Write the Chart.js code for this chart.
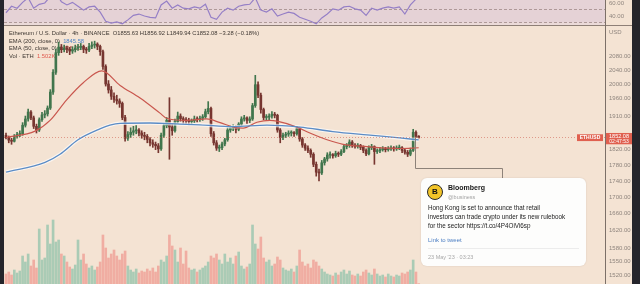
<!DOCTYPE html>
<html>
<head>
<meta charset="utf-8">
<script src="https://cdn.jsdelivr.net/npm/chart.js@4"></script>
<style>
  html, body { margin: 0; padding: 0; width: 640px; height: 284px; overflow: hidden; background: #25252b; }
  #wrap { position: absolute; left: 4px; top: 0; width: 628px; height: 284px; background: #f4e3d3; overflow: hidden;
          font-family: "Liberation Sans", Arial, sans-serif; }
  #rsiBg { position: absolute; left: 0; top: 0; width: 601px; height: 25px; background: #ebdad8; }
  #hsep { position: absolute; left: 0; top: 25px; width: 628px; height: 1px; background: #8e7f76; }
  #vsep { position: absolute; left: 601px; top: 0; width: 1px; height: 284px; background: #7c7068; z-index: 2; }
  canvas { position: absolute; left: 0; }
  #rsiCanvas { top: 0; }
  #mainCanvas { top: 26px; }
  #connector { position: absolute; left: 0; top: 0; width: 628px; height: 284px; pointer-events: none; z-index: 3; }
  #card { position: absolute; left: 417px; top: 178px; width: 165px; height: 88px; background: #fdfdfc;
          border-radius: 6px; box-shadow: 0 0 2px rgba(0,0,0,0.12); color: #1f1f1f; z-index: 4; }
  #logo { position: absolute; left: 6px; top: 6px; width: 14px; height: 14px; border-radius: 50%; background: #f2c428;
          border: 1px solid #2a2a2a; font: bold 8px/14px "Liberation Sans", Arial, sans-serif; text-align: center; color: #111; }
  #name { position: absolute; left: 27px; top: 6px; font: bold 7px "Liberation Sans", Arial, sans-serif; color: #161616; }
  #handle { position: absolute; left: 27px; top: 16px; font: 5.5px "Liberation Sans", Arial, sans-serif; color: #a3a3a3; }
  #body { position: absolute; left: 7px; top: 25px; font: 6.3px/9px "Liberation Sans", Arial, sans-serif; white-space: nowrap; color: #222; }
  #lnk { position: absolute; left: 7px; top: 59px; font: 6px "Liberation Sans", Arial, sans-serif; color: #4f80c4; }
  #rule { position: absolute; left: 7px; right: 7px; top: 70px; height: 1px; background: #ececec; }
  #date { position: absolute; left: 7px; top: 76px; font: 5.5px "Liberation Sans", Arial, sans-serif; color: #a8a8a8; }
</style>
</head>
<body>
<div id="wrap">
  <div id="rsiBg"></div>
  <canvas id="rsiCanvas" width="628" height="25"></canvas>
  <div id="hsep"></div>
  <canvas id="mainCanvas" width="628" height="258"></canvas>
  <div id="vsep"></div>
  <svg id="connector" width="628" height="284">
    <polyline points="411.5,138 411.5,168.5 498.5,168.5 498.5,178" fill="none" stroke="#8d8279" stroke-width="1"/>
  </svg>
  <div id="card">
    <div id="logo">B</div>
    <div id="name">Bloomberg</div>
    <div id="handle">@business</div>
    <div id="body">Hong Kong is set to announce that retail<br>investors can trade crypto under its new rulebook<br>for the sector https://t.co/4P4OiVi6sp</div>
    <div id="lnk">Link to tweet</div>
    <div id="rule"></div>
    <div id="date">23 May '23 · 03:23</div>
  </div>
</div>
<script>
// ---------- data ----------
const SYMBOL_TITLE = 'Ethereum / U.S. Dollar · 4h · BINANCE';
const COUNTDOWN = '02:47:53';

// 4h candles: [open, high, low, close]
const CANDLES = [
  [1858,1864,1848,1852],[1852,1856,1838,1845],[1845,1850,1834,1842],[1842,1860,1840,1855],[1855,1866,1850,1860],
  [1860,1870,1854,1862],[1862,1892,1858,1885],[1885,1910,1880,1902],[1902,1929,1896,1921],[1921,1925,1900,1905],
  [1905,1910,1876,1882],[1882,1888,1864,1872],[1872,1905,1868,1900],[1900,1920,1895,1913],[1913,1925,1905,1916],
  [1916,1938,1910,1932],[1932,1984,1928,1977],[1977,2042,1970,2034],[2034,2103,2028,2092],[2092,2124,2084,2109],
  [2109,2117,2092,2101],[2101,2115,2094,2106],[2106,2112,2092,2103],[2103,2108,2086,2097],[2097,2110,2090,2101],
  [2101,2115,2094,2106],[2106,2117,2099,2108],[2108,2120,2101,2111],[2111,2115,2092,2102],[2102,2108,2090,2100],
  [2100,2120,2095,2111],[2111,2125,2104,2115],[2115,2127,2106,2118],[2118,2122,2101,2111],[2111,2115,2084,2095],
  [2095,2100,2042,2051],[2051,2056,1994,2000],[2000,2010,1974,1983],[1983,1993,1956,1965],[1965,1975,1948,1956],
  [1956,1968,1943,1952],[1952,1958,1934,1945],[1945,1949,1900,1906],[1906,1912,1842,1850],[1850,1868,1844,1860],
  [1860,1878,1852,1866],[1866,1882,1858,1870],[1870,1884,1862,1872],[1872,1876,1856,1864],[1864,1870,1850,1858],
  [1858,1866,1846,1855],[1855,1860,1838,1847],[1847,1852,1830,1838],[1838,1846,1826,1834],[1834,1840,1820,1830],
  [1830,1836,1812,1822],[1822,1864,1818,1858],[1858,1890,1852,1884],[1884,1906,1878,1898],[1898,1961,1795,1880],
  [1880,1890,1858,1870],[1870,1902,1866,1895],[1895,1921,1890,1910],[1910,1916,1896,1903],[1903,1908,1890,1899],
  [1899,1906,1890,1898],[1898,1904,1886,1895],[1895,1902,1888,1897],[1897,1910,1892,1902],[1902,1908,1894,1900],
  [1900,1910,1895,1904],[1904,1914,1898,1908],[1908,1929,1904,1922],[1922,1950,1916,1931],[1931,1935,1855,1862],
  [1862,1868,1832,1838],[1838,1844,1818,1824],[1824,1832,1815,1825],[1825,1840,1820,1835],[1835,1850,1830,1846],
  [1846,1878,1842,1872],[1872,1884,1866,1878],[1878,1886,1870,1879],[1879,1884,1864,1874],[1874,1892,1870,1888],
  [1888,1908,1884,1902],[1902,1912,1896,1905],[1905,1908,1890,1898],[1898,1908,1892,1902],[1902,1945,1898,1939],
  [1939,2025,1934,1998],[1998,2006,1961,1968],[1968,1974,1918,1928],[1928,1932,1900,1906],[1906,1914,1898,1907],
  [1907,1916,1900,1910],[1910,1922,1904,1915],[1915,1920,1905,1912],[1912,1915,1866,1872],[1872,1876,1838,1852],
  [1852,1864,1846,1858],[1858,1866,1852,1861],[1861,1870,1855,1864],[1864,1870,1856,1865],[1865,1868,1855,1862],
  [1862,1882,1858,1876],[1876,1880,1842,1848],[1848,1852,1826,1832],[1832,1836,1818,1824],[1824,1830,1812,1818],
  [1818,1822,1800,1808],[1808,1812,1776,1782],[1782,1788,1752,1762],[1762,1770,1740,1760],[1760,1792,1756,1786],
  [1786,1800,1780,1796],[1796,1812,1790,1806],[1806,1814,1798,1807],[1807,1810,1798,1804],[1804,1816,1800,1810],
  [1810,1814,1802,1808],[1808,1820,1804,1815],[1815,1834,1812,1828],[1828,1836,1822,1831],[1831,1846,1826,1840],
  [1840,1844,1826,1830],[1830,1836,1824,1829],[1829,1836,1824,1831],[1831,1834,1820,1826],[1826,1830,1812,1818],
  [1818,1822,1804,1809],[1809,1830,1806,1825],[1825,1834,1820,1828],[1828,1830,1782,1815],[1815,1822,1810,1817],
  [1817,1826,1812,1820],[1820,1828,1816,1822],[1822,1826,1814,1820],[1820,1828,1816,1822],[1822,1830,1818,1823],
  [1823,1828,1816,1822],[1822,1830,1818,1824],[1824,1832,1820,1825],[1825,1828,1812,1818],[1818,1822,1808,1813],
  [1813,1818,1802,1808],[1808,1824,1804,1818],[1818,1874,1815,1866],[1866,1870,1852,1855.36],[1855.63,1856.92,1849.94,1852.08]
];

// volume per candle, thousands of ETH
const VOLUME_K = [
  40,48,36,56,44,52,112,88,120,72,
  96,64,220,96,104,236,160,256,168,176,
  120,112,88,68,60,76,176,96,120,80,
  64,72,56,68,88,196,144,104,120,136,
  112,96,120,132,72,56,48,60,44,52,
  48,60,52,64,48,72,96,88,112,196,
  152,136,88,144,80,132,64,56,60,48,
  56,64,72,88,112,104,120,96,80,120,
  88,104,80,112,128,72,60,68,80,236,
  160,140,188,104,88,96,72,80,108,96,
  64,56,52,60,48,72,136,88,72,80,
  64,96,88,72,60,48,40,36,32,44,
  36,48,56,40,52,36,32,40,32,48,
  56,44,36,60,40,32,36,28,40,32,
  28,36,32,44,40,48,56,96,48,1.502
];

// moving averages: [candle index, value]
const EMA200 = [[0,1762],[14.1,1787],[19.5,1808],[26,1846],[33.9,1875],[37.5,1885],[41.2,1890],[52,1891],
  [62.8,1888],[70,1886],[82,1881],[94.2,1885],[106.1,1880],[118,1868],[130.3,1859],[142.2,1851],[149,1845.58]];
const EMA50 = [[0,1852],[10.5,1869],[15.9,1898],[21.9,1955],[27.8,2003],[34.6,2038],[41.2,1996],[48.4,1960],
  [55.6,1918],[58,1904],[65.2,1898],[72.4,1902],[77.3,1892],[82,1880],[85.6,1877],[90.6,1893],[95.3,1898],
  [97.8,1896],[105,1880],[109.7,1864],[115.9,1846],[121.7,1834],[130.3,1828],[142.2,1823],[149,1825]];

// RSI sampled every second candle
const RSI_EVERY = 2;
const RSI_VALUES = [45,55,52,61,68,52,58,60,70,75, 62,57,61,55,49,54,55,46,32,29,
  31,28,34,41,43,40,38,37,57,63, 52,57,52,51,54,52,58,38,35,46,
  52,49,55,57,58,68,49,46,51,40, 43,46,44,38,35,32,28,37,43,51,
  49,54,55,51,49,41,52,49,52,54, 52,54,43,57,66];

const PRICE_TICKS = [2080, 2040, 2000, 1960, 1910, 1820, 1780, 1740, 1700, 1660, 1620, 1580, 1550, 1520];
const RSI_TICKS = [60, 40];
const RSI_LEVELS = [50, 30];

// ---------- view ranges ----------
const X_MIN = -0.72, X_MAX = 216.25;
const PRICE_MIN = 1500.5, PRICE_MAX = 2173.8;
const RSI_MIN = 26.15, RSI_MAX = 64.6;
const VOL_MAX = 1032;
const AXIS_W = 27;

const FONT = '"Liberation Sans", Arial, sans-serif';
const UP = '#41764d', DOWN = '#773630';
const isUp = CANDLES.map(r => r[3] >= r[0]);

function rightAxis(min, max, ticks, type) {
  return {
    type, position: 'right', min, max, bounds: 'data',
    grid: { display: false, drawTicks: false }, border: { display: false },
    afterBuildTicks: s => { s.ticks = ticks.map(v => ({ value: v })); },
    afterFit: s => { s.width = AXIS_W; s.paddingTop = 0; s.paddingBottom = 0; },
    ticks: { padding: 4, autoSkip: false, maxRotation: 0, color: '#8f857e',
             font: { size: 6, family: FONT }, callback: v => Number(v).toFixed(2) }
  };
}
const xAxis = () => ({ type: 'linear', min: X_MIN, max: X_MAX, offset: false, display: false });

// ---------- RSI pane ----------
const rsiGuides = {
  id: 'rsiGuides',
  beforeDatasetsDraw(chart) {
    const { ctx, chartArea: a, scales } = chart;
    ctx.save();
    const yTop = scales.y.getPixelForValue(70), yBot = scales.y.getPixelForValue(30);
    ctx.fillStyle = 'rgba(150,110,200,0.07)';
    ctx.fillRect(a.left, Math.max(a.top, yTop), a.right - a.left, yBot - Math.max(a.top, yTop));
    ctx.strokeStyle = 'rgba(130,105,100,0.55)';
    ctx.lineWidth = 1; ctx.setLineDash([3, 2]);
    RSI_LEVELS.forEach(l => {
      const y = Math.round(scales.y.getPixelForValue(l)) + 0.5;
      ctx.beginPath(); ctx.moveTo(a.left, y); ctx.lineTo(a.right, y); ctx.stroke();
    });
    ctx.restore();
  }
};

new Chart(document.getElementById('rsiCanvas'), {
  type: 'line',
  data: { datasets: [{
    data: RSI_VALUES.map((v, k) => ({ x: k * RSI_EVERY, y: v })),
    borderColor: '#957fc6', borderWidth: 1.2, pointRadius: 0, tension: 0
  }]},
  options: {
    responsive: false, animation: false, layout: { padding: 0 },
    plugins: { legend: { display: false }, tooltip: { enabled: false } },
    scales: { x: xAxis(), y: rightAxis(RSI_MIN, RSI_MAX, RSI_TICKS, 'linear') }
  },
  plugins: [rsiGuides]
});

// ---------- price pane ----------
const fmtSigned = v => (v < 0 ? '\u2212' : '+') + Math.abs(v).toFixed(2);

const paneLegend = {
  id: 'paneLegend',
  beforeDatasetsDraw(chart) {
    const ctx = chart.ctx;
    const last = CANDLES[CANDLES.length - 1], prev = CANDLES[CANDLES.length - 2];
    const chg = last[3] - prev[3], pct = chg / prev[3] * 100;
    ctx.save();
    ctx.font = '5.8px ' + FONT; ctx.textBaseline = 'middle'; ctx.textAlign = 'left';
    const run = (parts, y) => {
      let x = 5;
      parts.forEach(([t, c]) => { ctx.fillStyle = c; ctx.fillText(t, x, y); x += ctx.measureText(t).width; });
    };
    const txt = '#3d3631';
    run([[SYMBOL_TITLE + '  O' + last[0].toFixed(2) + ' H' + last[1].toFixed(2) + ' L' + last[2].toFixed(2) +
          ' C' + last[3].toFixed(2) + ' ' + fmtSigned(chg) + ' (' + fmtSigned(pct) + '%)', txt]], 7.3);
    run([['EMA (200, close, 0)  ', txt], [EMA200[EMA200.length - 1][1].toFixed(2), '#4f86c6']], 15);
    run([['EMA (50, close, 0)  ', txt], [EMA50[EMA50.length - 1][1].toFixed(2), '#c9574e']], 22.7);
    run([['Vol \u00b7 ETH  ', txt], [VOLUME_K[VOLUME_K.length - 1].toFixed(3) + 'K', '#e05a4f']], 30.5);
    ctx.restore();
  }
};

const priceMarkers = {
  id: 'priceMarkers',
  afterDraw(chart) {
    const { ctx, chartArea: a, scales } = chart;
    const lastClose = CANDLES[CANDLES.length - 1][3];
    const y = scales.y.getPixelForValue(lastClose);
    ctx.save();
    ctx.strokeStyle = 'rgba(205,92,78,0.55)'; ctx.lineWidth = 1; ctx.setLineDash([1, 2]);
    ctx.beginPath(); ctx.moveTo(a.left, Math.round(y) + 0.5); ctx.lineTo(a.right, Math.round(y) + 0.5); ctx.stroke();
    ctx.setLineDash([]);
    ctx.fillStyle = '#e0604f';
    ctx.fillRect(a.right - 28, y - 3.2, 26, 6.8);
    ctx.fillRect(a.right + 1, y - 4.5, AXIS_W - 1, 11.3);
    ctx.fillStyle = '#ffffff'; ctx.textAlign = 'center'; ctx.textBaseline = 'middle';
    ctx.font = 'bold 5px ' + FONT;
    ctx.fillText('ETHUSD', a.right - 15, y + 0.2);
    ctx.font = '5.5px ' + FONT;
    ctx.fillText(lastClose.toFixed(2), a.right + 14, y - 0.9);
    ctx.font = '5px ' + FONT;
    ctx.fillText(COUNTDOWN, a.right + 14, y + 4.2);
    ctx.fillStyle = '#8f857e'; ctx.textAlign = 'left'; ctx.font = '6px ' + FONT;
    ctx.fillText('USD', a.right + 4, 6);
    ctx.restore();
  }
};

new Chart(document.getElementById('mainCanvas'), {
  type: 'bar',
  data: { datasets: [
    { label: 'EMA 200 halo', type: 'line', yAxisID: 'y', order: 1,
      data: EMA200.map(p => ({ x: p[0], y: p[1] })), borderColor: 'rgba(255,255,255,0.65)', borderWidth: 3.5,
      pointRadius: 0, cubicInterpolationMode: 'monotone' },
    { label: 'EMA 200', type: 'line', yAxisID: 'y', order: 0,
      data: EMA200.map(p => ({ x: p[0], y: p[1] })), borderColor: '#5b8cc6', borderWidth: 1.3,
      pointRadius: 0, cubicInterpolationMode: 'monotone' },
    { label: 'EMA 50', type: 'line', yAxisID: 'y', order: 0,
      data: EMA50.map(p => ({ x: p[0], y: p[1] })), borderColor: '#c9574e', borderWidth: 1.2,
      pointRadius: 0, cubicInterpolationMode: 'monotone' },
    { label: 'Wicks', yAxisID: 'y', order: 2, grouped: false, barThickness: 1,
      data: CANDLES.map((r, i) => ({ x: i, y: [r[2], r[1]] })),
      backgroundColor: isUp.map(u => u ? UP : DOWN) },
    { label: 'Bodies', yAxisID: 'y', order: 2, grouped: false, barThickness: 2, minBarLength: 1,
      data: CANDLES.map((r, i) => ({ x: i, y: [r[0], r[3]] })),
      backgroundColor: isUp.map(u => u ? UP : DOWN) },
    { label: 'Volume', yAxisID: 'yVol', order: 5, grouped: false, barThickness: 2,
      data: VOLUME_K.map((v, i) => ({ x: i, y: v })),
      backgroundColor: isUp.map(u => u ? '#aacbb5' : '#f0ada2') }
  ]},
  options: {
    responsive: false, animation: false, layout: { padding: 0 },
    plugins: { legend: { display: false }, tooltip: { enabled: false } },
    scales: {
      x: xAxis(),
      y: rightAxis(PRICE_MIN, PRICE_MAX, PRICE_TICKS, 'logarithmic'),
      yVol: { type: 'linear', display: false, min: 0, max: VOL_MAX }
    }
  },
  plugins: [paneLegend, priceMarkers]
});
</script>
</body>
</html>
